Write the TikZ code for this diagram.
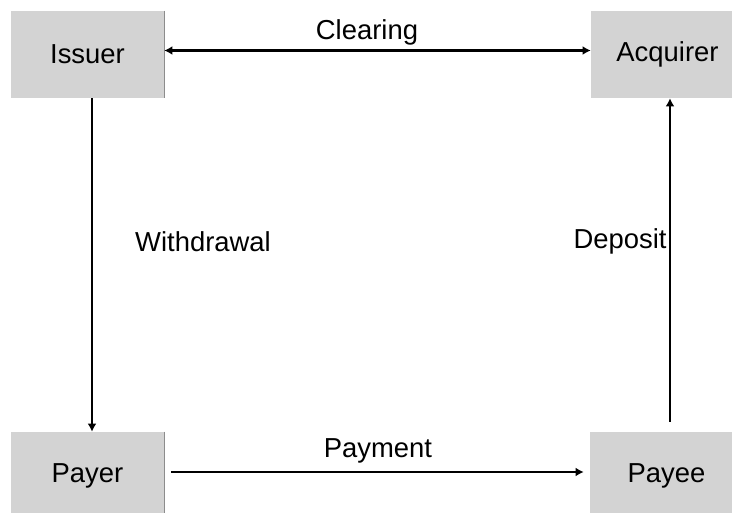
\documentclass[tikz,border=0pt]{standalone}
\usepackage{fontspec}
\setmainfont{Liberation Sans}
\usepackage{tikz}
\usetikzlibrary{arrows.meta, calc}
\definecolor{boxgray}{RGB}{211,211,211}
\definecolor{edgegray}{RGB}{140,140,140}

\begin{document}
\begin{tikzpicture}[x=0.025cm, y=-0.025cm,
    party/.style={fill=boxgray, minimum width=3.825cm, minimum height=2.175cm, inner sep=0pt},
    tip/.style={Latex[length=0.2cm, width=0.22cm]},
    flow/.style={line width=1.7pt},
    every node/.style={font=\fontsize{19.5}{23}\selectfont}]
\useasboundingbox (0,0) rectangle (732,513);
\clip (0,0) rectangle (732,513);

\node[party] (Issuer)   at (87.5, 54.5)  {Issuer};
\node[party] (Acquirer) at (667.5, 54.5) {Acquirer};
\node[party] (Payer)    at (87.5, 475.5) {Payer};
\node[party] (Payee)    at (666.5, 475.5) {Payee};

\draw[edgegray, line width=0.8pt] (Issuer.north east) -- (Issuer.south east);
\draw[edgegray, line width=0.8pt] (Payer.north east) -- (Payer.south east);

\begin{scope}[flow]
    \draw[{Latex[length=0.2cm, width=0.22cm]}-{Latex[length=0.2cm, width=0.22cm]}] ($(Issuer.east)+(0,-4)$) -- ($(Acquirer.west)+(0,-4)$);
    \draw[-{Latex[length=0.2cm, width=0.22cm]}] ($(Issuer.south)+(4.5,0)$) -- ($(Payer.north)+(4.5,0)$);
    \draw[-{Latex[length=0.2cm, width=0.22cm]}] ($(Payee.north)+(3.5,-10)$) -- ($(Acquirer.south)+(2.5,0)$);
    \draw[-{Latex[length=0.2cm, width=0.22cm]}] ($(Payer.east)+(7,-3.5)$) -- ($(Payee.west)+(-6,-3.5)$);
\end{scope}

\node (clearing)   at (367, 32)  {Clearing};
\node (withdrawal) at (203, 242) {Withdrawal};
\node (deposit)    at (620, 241) {Deposit};
\node (payment)    at (378, 451) {Payment};
\end{tikzpicture}
\end{document}
